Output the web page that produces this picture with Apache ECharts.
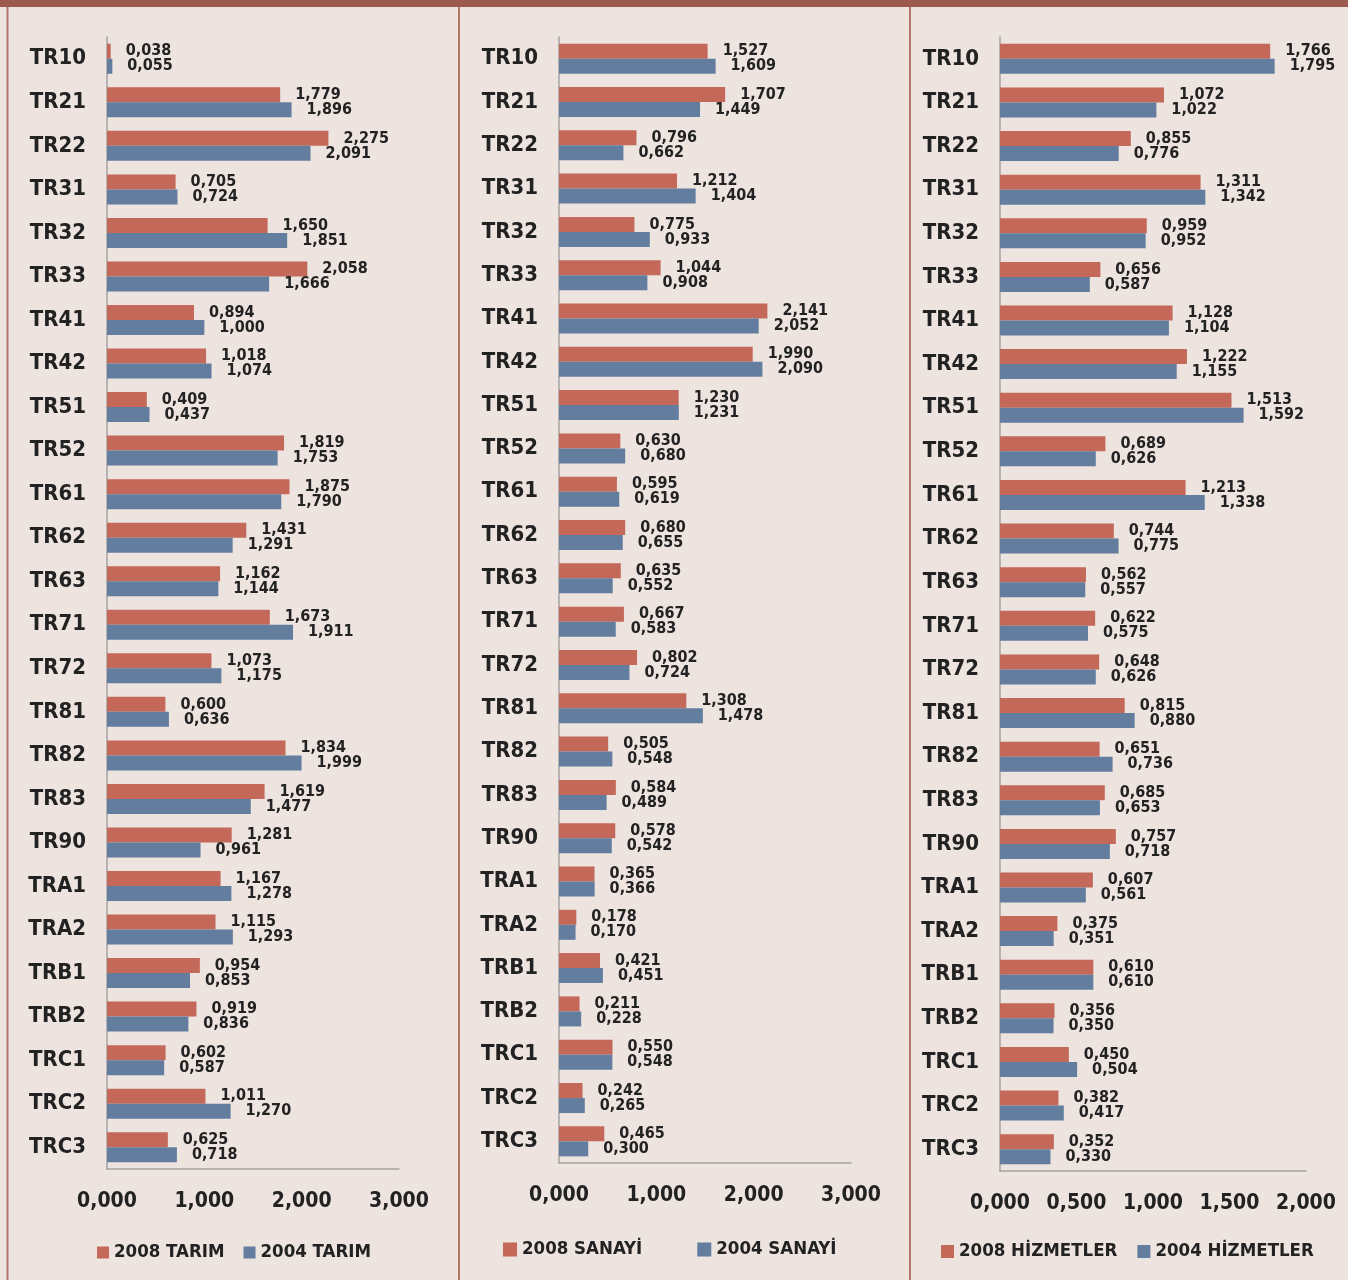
<!DOCTYPE html>
<html>
<head>
<meta charset="utf-8">
<script src="https://cdn.jsdelivr.net/npm/echarts@6/dist/echarts.min.js"></script>
<style>
html,body{margin:0;padding:0;background:#ede3df;}
#c{width:1348px;height:1280px;}
</style>
</head>
<body>
<div id="c"></div>
<script>
const categories = ['TR10','TR21','TR22','TR31','TR32','TR33','TR41','TR42','TR51','TR52','TR61','TR62','TR63','TR71','TR72','TR81','TR82','TR83','TR90','TRA1','TRA2','TRB1','TRB2','TRC1','TRC2','TRC3'];

const tarim2008 = [0.038,1.779,2.275,0.705,1.650,2.058,0.894,1.018,0.409,1.819,1.875,1.431,1.162,1.673,1.073,0.600,1.834,1.619,1.281,1.167,1.115,0.954,0.919,0.602,1.011,0.625];
const tarim2004 = [0.055,1.896,2.091,0.724,1.851,1.666,1.000,1.074,0.437,1.753,1.790,1.291,1.144,1.911,1.175,0.636,1.999,1.477,0.961,1.278,1.293,0.853,0.836,0.587,1.270,0.718];

const sanayi2008 = [1.527,1.707,0.796,1.212,0.775,1.044,2.141,1.990,1.230,0.630,0.595,0.680,0.635,0.667,0.802,1.308,0.505,0.584,0.578,0.365,0.178,0.421,0.211,0.550,0.242,0.465];
const sanayi2004 = [1.609,1.449,0.662,1.404,0.933,0.908,2.052,2.090,1.231,0.680,0.619,0.655,0.552,0.583,0.724,1.478,0.548,0.489,0.542,0.366,0.170,0.451,0.228,0.548,0.265,0.300];

const hizmet2008 = [1.766,1.072,0.855,1.311,0.959,0.656,1.128,1.222,1.513,0.689,1.213,0.744,0.562,0.622,0.648,0.815,0.651,0.685,0.757,0.607,0.375,0.610,0.356,0.450,0.382,0.352];
const hizmet2004 = [1.795,1.022,0.776,1.342,0.952,0.587,1.104,1.155,1.592,0.626,1.338,0.775,0.557,0.575,0.626,0.880,0.736,0.653,0.718,0.561,0.351,0.610,0.350,0.504,0.417,0.330];

const names = [
  ['2008 TARIM','2004 TARIM'],
  ['2008 SANAYİ','2004 SANAYİ'],
  ['2008 HİZMETLER','2004 HİZMETLER']
];
const xMax = [3, 3, 2];
const xInterval = [1, 1, 0.5];

const FONT = '"DejaVu Sans Condensed", "Liberation Sans Narrow", "DejaVu Sans", sans-serif';
const RED = '#c4695a';
const BLUE = '#627d9e';
const AXIS = '#a3a3a3';
const fmt = v => v.toFixed(3).replace('.', ',');

const grids = [
  {left:107, width:292, top:37, height:1132},
  {left:559, width:292, top:37, height:1126},
  {left:1000, width:306, top:37, height:1134}
];

const xAxes = grids.map((g,i)=>({
  type:'value', gridIndex:i, min:0, max:xMax[i], interval:xInterval[i],
  axisLine:{show:true, lineStyle:{color:AXIS, width:1.5}},
  axisTick:{show:false}, splitLine:{show:false},
  axisLabel:{margin:22, color:'#222', fontFamily:FONT, fontWeight:'bold', fontSize:21, formatter:fmt}
}));
const yAxes = grids.map((g,i)=>({
  type:'category', gridIndex:i, data:categories, inverse:true,
  axisLine:{show:true, lineStyle:{color:AXIS, width:1.5}},
  axisTick:{show:false},
  axisLabel:{margin:21, color:'#222', fontFamily:FONT, fontWeight:'bold', fontSize:22}
}));

const dataSets = [[tarim2008,tarim2004],[sanayi2008,sanayi2004],[hizmet2008,hizmet2004]];
const series = [];
dataSets.forEach((pair,i)=>{
  pair.forEach((d,j)=>{
    series.push({
      type:'bar', name:names[i][j], xAxisIndex:i, yAxisIndex:i, data:d,
      barWidth:15, barGap:'0%',
      itemStyle:{color: j===0 ? RED : BLUE},
      label:{show:true, position:'right', distance:15, color:'#222',
        fontFamily:FONT, fontWeight:'bold', fontSize:16,
        formatter:p=>fmt(p.value)},
      animation:false
    });
  });
});

const legendPos = [
  {left:97, top:1243, itemGap:19, size:12},
  {left:503, top:1240, itemGap:55, size:14},
  {left:941, top:1242, itemGap:20, size:13}
];
const legends = legendPos.map((p,i)=>({
  data:names[i], left:p.left, top:p.top, itemGap:p.itemGap, padding:0,
  icon:'rect', itemWidth:p.size, itemHeight:p.size,
  textStyle:{color:'#222', fontFamily:FONT, fontWeight:'bold', fontSize:18.5}
}));

const chart = echarts.init(document.getElementById('c'));
chart.setOption({
  backgroundColor:'#ede3df',
  animation:false,
  grid:grids,
  xAxis:xAxes,
  yAxis:yAxes,
  legend:legends,
  series:series,
  graphic:[
    {type:'rect', shape:{x:0,y:0,width:1348,height:7}, style:{fill:'#9b5a4d'}},
    {type:'line', shape:{x1:7.5,y1:7,x2:7.5,y2:1280}, style:{stroke:'#b5746a', lineWidth:2}},
    {type:'line', shape:{x1:459,y1:7,x2:459,y2:1280}, style:{stroke:'#b5746a', lineWidth:2}},
    {type:'line', shape:{x1:910,y1:7,x2:910,y2:1280}, style:{stroke:'#b5746a', lineWidth:2}}
  ]
});
</script>
</body>
</html>
